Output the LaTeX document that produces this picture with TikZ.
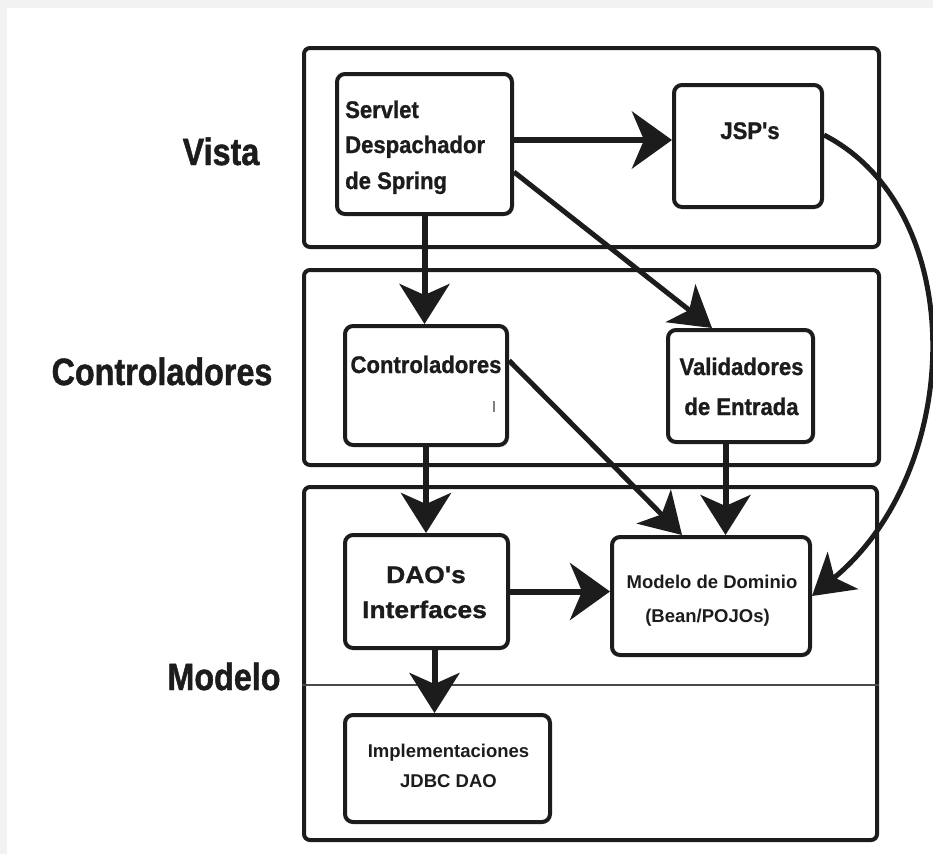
\documentclass[tikz,border=0pt]{standalone}
\usepackage{fontspec}
\setmainfont{Liberation Sans}
\newfontfamily\lblfont{Liberation Sans}[FakeStretch=0.85,FakeBold=1.2]
\newfontfamily\boxfont{Liberation Sans}[FakeStretch=0.92,FakeBold=1]
\newfontfamily\widefont{Liberation Sans}[FakeStretch=1.1,FakeBold=1.2]
\usetikzlibrary{arrows.meta,calc}
\definecolor{ink}{HTML}{1C1C1C}
\definecolor{framegray}{HTML}{F2F2F2}
\begin{document}
\begin{tikzpicture}[x=1pt,y=-1pt,
  layerbox/.style={draw=ink,line width=4pt,rounded corners=6pt,inner sep=0pt,fill=white},
  compbox/.style={draw=ink,line width=4pt,rounded corners=8pt,inner sep=0pt,fill=white},
  sidelabel/.style={font=\lblfont\bfseries\fontsize{38}{40}\selectfont,text=ink,inner sep=0pt,anchor=base},
  boxtext/.style={font=\boxfont\bfseries\fontsize{24}{28}\selectfont,text=ink,inner sep=0pt,anchor=base},
  widetext/.style={font=\widefont\bfseries\fontsize{24}{28}\selectfont,text=ink,inner sep=0pt,anchor=base},
  smalltext/.style={font=\bfseries\fontsize{18.5}{22}\selectfont,text=ink,inner sep=0pt,anchor=base},
  arr/.style={draw=ink,line width=6pt,-{Stealth[length=40pt,width=50pt,inset=11pt]}},
  widearr/.style={draw=ink,line width=6pt,-{Stealth[length=40pt,width=57pt,inset=12pt]}},
  thinarr/.style={draw=ink,line width=5pt,-{Stealth[length=40pt,width=48pt,inset=11pt]}}]

% page frame
\fill[framegray] (0,0) rectangle (933,854);
\fill[white] (7,8) rectangle (933,854);
\useasboundingbox (0,0) rectangle (933,854);

% layers
\node[layerbox,minimum width=575pt,minimum height=199pt] (vista) at (591.5,147.5) {};
\node[layerbox,minimum width=575pt,minimum height=195pt] (ctrllayer) at (591.5,367.5) {};
\node[layerbox,minimum width=573pt,minimum height=353pt] (model) at (590.5,663.5) {};
\draw[ink!80,line width=1.8pt] (model.west |- 0,685) -- (model.east |- 0,685);

% layer names
\node[sidelabel] (lvista) at (221,165) {Vista};
\node[sidelabel] (lctrl) at (162,385) {Controladores};
\node[sidelabel] (lmodel) at (224,690) {Modelo};

% components
\node[compbox,minimum width=175pt,minimum height=140pt] (serv) at (424.5,144) {};
\node[compbox,minimum width=148pt,minimum height=122pt] (jsp) at (748,146) {};
\node[compbox,minimum width=162pt,minimum height=119pt] (ctrl) at (426,385.5) {};
\node[compbox,minimum width=145pt,minimum height=112pt] (val) at (740.5,386) {};
\node[compbox,minimum width=163pt,minimum height=113pt] (dao) at (426.5,591.5) {};
\node[compbox,minimum width=198pt,minimum height=118pt] (dom) at (711,596) {};
\node[compbox,minimum width=205pt,minimum height=107pt] (impl) at (447.5,768.5) {};

% component texts
\node[boxtext,anchor=base west] (sv1) at (345,118) {Servlet};
\node[boxtext,anchor=base west] (sv2) at (345,153) {Despachador};
\node[boxtext,anchor=base west] (sv3) at (345,189) {de Spring};
\node[boxtext] (tjsp) at (750,139) {JSP's};
\node[boxtext] (tctrl) at (426,373) {Controladores};
\draw[gray,line width=1.3pt] (494,401) -- (494,412);
\node[boxtext] (tval1) at (741.5,375) {Validadores};
\node[boxtext] (tval2) at (741.5,415) {de Entrada};
\node[widetext] (tdao1) at (426,583) {DAO's};
\node[widetext] (tdao2) at (424.5,618) {Interfaces};
\node[smalltext] (tdom1) at (712,588) {Modelo de Dominio};
\node[smalltext] (tdom2) at (707.5,622) {(Bean/POJOs)};
\node[smalltext] (timpl1) at (448.5,757) {Implementaciones};
\node[smalltext] (timpl2) at (448.5,787) {JDBC DAO};

% connectors
\coordinate (sjs) at ($(serv.east)+(0,-4)$);
\draw[widearr] (sjs) -- (sjs -| jsp.west);
\draw[thinarr] ($(serv.east)+(0,28)$) -- ($(val.north)+(-28.5,0)$);
\draw[arr] (serv.south) -- (serv.south |- ctrl.north);
\draw[thinarr] ($(jsp.east)+(0,-11)$) .. controls (970,210) and (965,470) .. (dom.east);
\draw[thinarr] ($(ctrl.east)+(0,-25)$) -- ($(dom.north)+(-29,0)$);
\coordinate (vs) at ($(val.south)+(-15,0)$);
\draw[arr] (vs) -- (vs |- dom.north);
\draw[arr] (ctrl.south) -- (ctrl.south |- dao.north);
\draw[widearr] (dao.east) -- (dao.east -| dom.west);
\coordinate (ds) at ($(dao.south)+(8,0)$);
\draw[arr] (ds) -- (ds |- impl.north);
\end{tikzpicture}
\end{document}
